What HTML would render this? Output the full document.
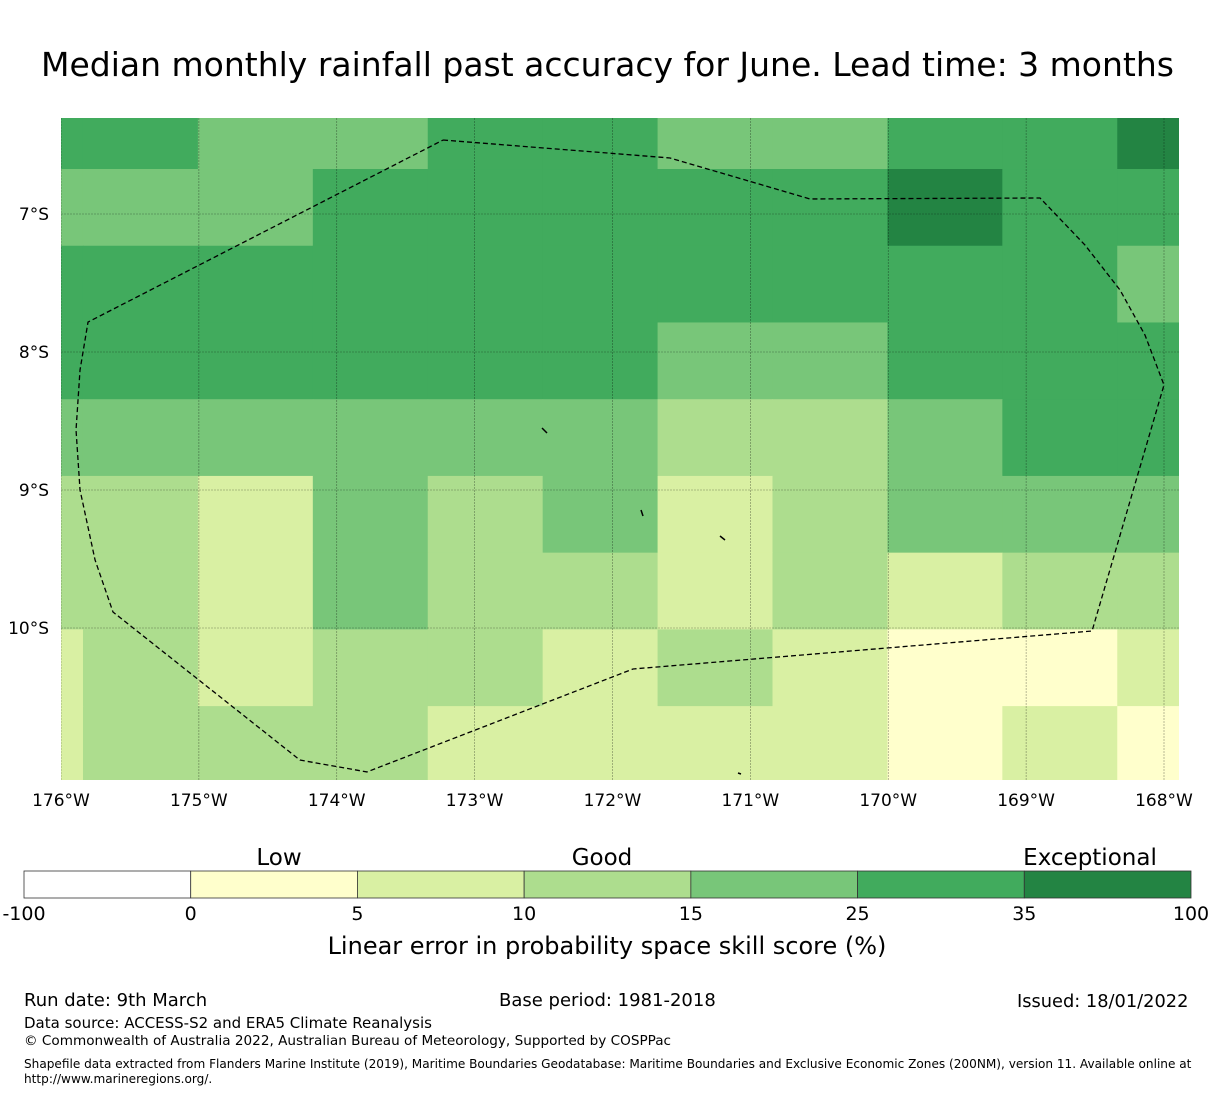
<!DOCTYPE html>
<html><head><meta charset="utf-8"><style>
body{margin:0;background:#fff;font-family:"DejaVu Sans","Liberation Sans",sans-serif;}
#wrap{position:relative;width:1215px;height:1095px;overflow:hidden;}
.t{position:absolute;white-space:nowrap;color:#000;}
</style></head><body>
<div id="wrap">
<div class="t" style="left:0;width:1215px;text-align:center;top:45px;font-size:33px;">Median monthly rainfall past accuracy for June. Lead time: 3 months</div>
<svg id="map" width="1215" height="1095" style="position:absolute;left:0;top:0"></svg>
<div class="t" style="left:24px;top:990px;font-size:18px;">Run date: 9th March</div>
<div class="t" style="left:499px;top:990px;font-size:18px;">Base period: 1981-2018</div>
<div class="t" style="left:1017px;top:991px;font-size:17.8px;">Issued: 18/01/2022</div>
<div class="t" style="left:24px;top:1014px;font-size:15px;">Data source: ACCESS-S2 and ERA5 Climate Reanalysis</div>
<div class="t" style="left:24px;top:1033px;font-size:13.6px;">© Commonwealth of Australia 2022, Australian Bureau of Meteorology, Supported by COSPPac</div>
<div class="t" style="left:24px;top:1057px;font-size:12.1px;line-height:15px;white-space:normal;width:1185px;">Shapefile data extracted from Flanders Marine Institute (2019), Maritime Boundaries Geodatabase: Maritime Boundaries and Exclusive Economic Zones (200NM), version 11. Available online at http://www.marineregions.org/.</div>
</div>
<script>
const colors=["#ffffff","#ffffcc","#d9f0a3","#addd8e","#78c679","#41ab5d","#238443"];
const boundaries=[-100,0,5,10,15,25,35,100];
const lonTicks=[-176,-175,-174,-173,-172,-171,-170,-169,-168];
const latTicks=[-7,-8,-9,-10];
const cellLonStart=-176.674; const cellLatStart=-6.118; const cellLon=0.8335; const cellLat=0.556;
const row0=[5,5,4,4,5,5,4,4,5,5,6];
const row1=[4,4,4,5,5,5,5,5,6,5,5];
const row2=[5,5,5,5,5,5,5,5,5,5,4];
const row3=[5,5,5,5,5,5,4,4,5,5,5];
const row4=[4,4,4,4,4,4,3,3,4,5,5];
const row5=[3,3,2,4,3,4,2,3,4,4,4];
const row6=[3,3,2,4,3,3,2,3,2,3,3];
const row7=[2,3,2,3,3,2,3,2,1,1,2];
const row8=[2,3,3,3,2,2,2,2,1,2,1];
const rows=[row0,row1,row2,row3,row4,row5,row6,row7,row8];
const eezLon=[-173.229,-171.583,-170.568,-168.899,-168.573,-168.319,-168.138,-168.0,-168.522,-171.851,-173.781,-174.267,-175.623,-175.753,-175.862,-175.891,-175.862,-175.804,-173.229];
const eezLat=[-6.464,-6.594,-6.891,-6.884,-7.225,-7.551,-7.877,-8.239,-10.022,-10.297,-11.043,-10.957,-9.884,-9.507,-9.0,-8.565,-8.130,-7.783,-6.464];
const NS="http://www.w3.org/2000/svg";
const svg=document.getElementById('map');
const X0=61,X1=1179,Y0=118,Y1=780;
const x=lon=>61+(lon+176)*137.875;
const y=lat=>214+(-7-lat)*138;
function mk(t,a){const e=document.createElementNS(NS,t);for(const k in a)e.setAttribute(k,a[k]);return e;}
const clip=mk('clipPath',{id:'c'});clip.appendChild(mk('rect',{x:X0,y:Y0,width:X1-X0,height:Y1-Y0}));svg.appendChild(clip);
const g=mk('g',{'clip-path':'url(#c)'});svg.appendChild(g);
rows.forEach((r,i)=>r.forEach((v,j)=>{
 const lonA=cellLonStart+j*cellLon, latA=cellLatStart-i*cellLat;
 const xa=x(lonA), xb=x(lonA+cellLon), ya=y(latA), yb=y(latA-cellLat);
 const c=mk('rect',{x:xa,y:ya,width:xb-xa+0.5,height:yb-ya+0.5,fill:colors[v]});
 
 
 g.appendChild(c);
}));
lonTicks.forEach(l=>{const e=mk('line',{x1:x(l),x2:x(l),y1:Y0,y2:Y1,stroke:'rgba(0,0,0,0.45)','stroke-width':0.6,'stroke-dasharray':'2,1'});g.appendChild(e);
 const t=mk('text',{x:x(l),y:806,'font-size':17,'text-anchor':'middle'});t.textContent=(-l)+'°W';
 
 
 svg.appendChild(t);});
latTicks.forEach(l=>{const e=mk('line',{x1:X0,x2:X1,y1:y(l),y2:y(l),stroke:'rgba(0,0,0,0.45)','stroke-width':0.6,'stroke-dasharray':'2,1'});g.appendChild(e);
 const t=mk('text',{x:49,y:y(l)+6,'font-size':17,'text-anchor':'end'});t.textContent=(-l)+'°S';
 
 
 svg.appendChild(t);});
const pts=eezLon.map((l,i)=>x(l)+','+y(eezLat[i])).join(' ');
const poly=mk('polyline',{points:pts,fill:'none',stroke:'#000','stroke-width':1.3,'stroke-dasharray':'5,3'});


g.appendChild(poly);
[[542,428,547,433],[641,510,643,516],[720,536,725,540],[738,773,741,774]].forEach(p=>{const e=mk('line',{x1:p[0],y1:p[1],x2:p[2],y2:p[3],stroke:'#000','stroke-width':1.5});
 
 
 g.appendChild(e);});
const CB0=24,CB1=1191,segW=(CB1-CB0)/colors.length;
colors.forEach((c,i)=>{const r=mk('rect',{x:CB0+i*segW,y:871,width:segW,height:27,fill:c,stroke:'#333','stroke-width':0.8});
 
 
 svg.appendChild(r);});
boundaries.forEach((b,i)=>{const t=mk('text',{x:CB0+i*segW,y:920,'font-size':19,'text-anchor':'middle'});t.textContent=b;
 
 
 svg.appendChild(t);});
[['Low',279],['Good',602],['Exceptional',1090]].forEach(a=>{const t=mk('text',{x:a[1],y:865,'font-size':23,'text-anchor':'middle'});t.textContent=a[0];
 
 
 svg.appendChild(t);});
const at=mk('text',{x:607,y:954,'font-size':24,'text-anchor':'middle'});at.textContent='Linear error in probability space skill score (%)';


svg.appendChild(at);
</script>
</body></html>
